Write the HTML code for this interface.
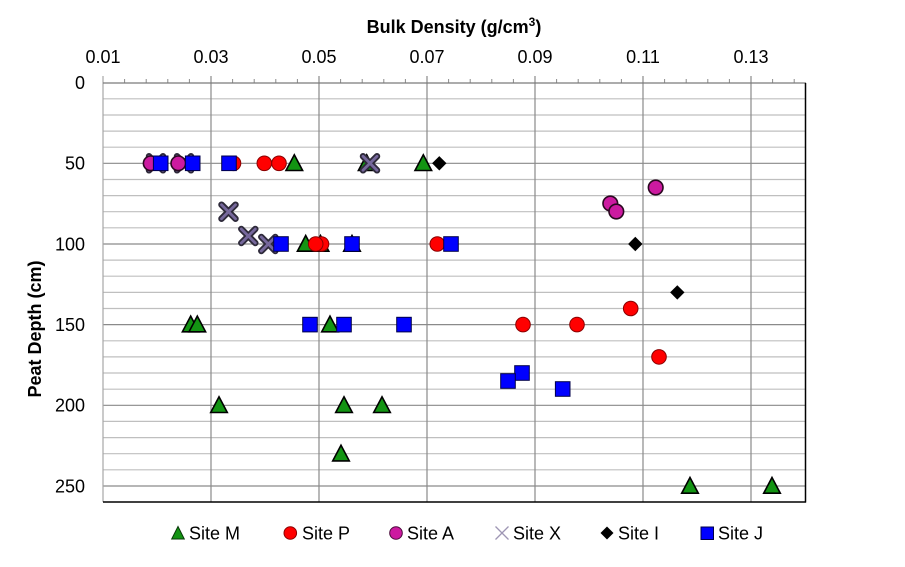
<!DOCTYPE html>
<html><head><meta charset="utf-8"><style>
html,body{margin:0;padding:0;background:#fff;}
svg{display:block;font-family:"Liberation Sans",Arial,sans-serif;}
</style></head><body>
<svg width="905" height="567" viewBox="0 0 905 567" xmlns="http://www.w3.org/2000/svg">
<rect width="905" height="567" fill="#fff"/>
<defs>
<path id="tri" d="M0,-8.5 L8.3,7.2 L-8.3,7.2 Z" fill="#139413" stroke="#000" stroke-width="1.6" stroke-linejoin="miter"/>
<circle id="cp" r="7.3" fill="#ff0000" stroke="#8a0000" stroke-width="1"/>
<circle id="ca" r="7.3" fill="#cc1aa0" stroke="#2a0820" stroke-width="1.6"/>
<rect id="sq" x="-7.3" y="-7.3" width="14.6" height="14.6" fill="#0000ff" stroke="#00004a" stroke-width="1"/>
<path id="dm" d="M0,-7.2 L7.2,0 L0,7.2 L-7.2,0 Z" fill="#000"/>
<g id="xx">
<path d="M-7,-7 L7,7 M7,-7 L-7,7" stroke="#2e2a3a" stroke-width="6.5" stroke-linecap="round"/>
<path d="M-7,-7 L7,7 M7,-7 L-7,7" stroke="#76689c" stroke-width="2.8" stroke-linecap="round"/>
</g>
</defs>
<!-- minor horizontal gridlines -->
<g stroke="#bfbfbf" stroke-width="1.2">
<line x1="103" x2="805" y1="98.8" y2="98.8"/><line x1="103" x2="805" y1="115" y2="115"/><line x1="103" x2="805" y1="131.1" y2="131.1"/><line x1="103" x2="805" y1="147.2" y2="147.2"/>
<line x1="103" x2="805" y1="179.5" y2="179.5"/><line x1="103" x2="805" y1="195.6" y2="195.6"/><line x1="103" x2="805" y1="211.7" y2="211.7"/><line x1="103" x2="805" y1="227.8" y2="227.8"/>
<line x1="103" x2="805" y1="260.1" y2="260.1"/><line x1="103" x2="805" y1="276.2" y2="276.2"/><line x1="103" x2="805" y1="292.4" y2="292.4"/><line x1="103" x2="805" y1="308.5" y2="308.5"/>
<line x1="103" x2="805" y1="340.8" y2="340.8"/><line x1="103" x2="805" y1="356.9" y2="356.9"/><line x1="103" x2="805" y1="373" y2="373"/><line x1="103" x2="805" y1="389.2" y2="389.2"/>
<line x1="103" x2="805" y1="421.4" y2="421.4"/><line x1="103" x2="805" y1="437.6" y2="437.6"/><line x1="103" x2="805" y1="453.7" y2="453.7"/><line x1="103" x2="805" y1="469.8" y2="469.8"/>
</g>
<!-- major horizontal gridlines -->
<g stroke="#8a8a8a" stroke-width="1.2">
<line x1="103" x2="805" y1="163.3" y2="163.3"/><line x1="103" x2="805" y1="244" y2="244"/><line x1="103" x2="805" y1="324.6" y2="324.6"/><line x1="103" x2="805" y1="405.3" y2="405.3"/><line x1="103" x2="805" y1="486" y2="486"/>
</g>
<!-- vertical gridlines -->
<g stroke="#8a8a8a" stroke-width="1.2">
<line x1="211" x2="211" y1="76" y2="502"/><line x1="319" x2="319" y1="76" y2="502"/><line x1="427" x2="427" y1="76" y2="502"/><line x1="535" x2="535" y1="76" y2="502"/><line x1="643" x2="643" y1="76" y2="502"/><line x1="751" x2="751" y1="76" y2="502"/>
</g>
<line x1="103" x2="103" y1="76" y2="502" stroke="#a6a6a6" stroke-width="1.2"/>
<!-- minor ticks top -->
<g stroke="#8a8a8a" stroke-width="1">
<line x1="124.6" x2="124.6" y1="79" y2="83"/><line x1="146.2" x2="146.2" y1="79" y2="83"/><line x1="167.8" x2="167.8" y1="79" y2="83"/><line x1="189.4" x2="189.4" y1="79" y2="83"/>
<line x1="232.6" x2="232.6" y1="79" y2="83"/><line x1="254.2" x2="254.2" y1="79" y2="83"/><line x1="275.8" x2="275.8" y1="79" y2="83"/><line x1="297.4" x2="297.4" y1="79" y2="83"/>
<line x1="340.6" x2="340.6" y1="79" y2="83"/><line x1="362.2" x2="362.2" y1="79" y2="83"/><line x1="383.8" x2="383.8" y1="79" y2="83"/><line x1="405.4" x2="405.4" y1="79" y2="83"/>
<line x1="448.6" x2="448.6" y1="79" y2="83"/><line x1="470.2" x2="470.2" y1="79" y2="83"/><line x1="491.8" x2="491.8" y1="79" y2="83"/><line x1="513.4" x2="513.4" y1="79" y2="83"/>
<line x1="556.6" x2="556.6" y1="79" y2="83"/><line x1="578.2" x2="578.2" y1="79" y2="83"/><line x1="599.8" x2="599.8" y1="79" y2="83"/><line x1="621.4" x2="621.4" y1="79" y2="83"/>
<line x1="664.6" x2="664.6" y1="79" y2="83"/><line x1="686.2" x2="686.2" y1="79" y2="83"/><line x1="707.8" x2="707.8" y1="79" y2="83"/><line x1="729.4" x2="729.4" y1="79" y2="83"/>
<line x1="772.6" x2="772.6" y1="79" y2="83"/><line x1="794.2" x2="794.2" y1="79" y2="83"/>
</g>
<line x1="103" x2="806" y1="83" y2="83" stroke="#7a7a7a" stroke-width="1.3"/>
<line x1="103" x2="806" y1="502" y2="502" stroke="#000" stroke-width="1.5"/>
<line x1="805.5" x2="805.5" y1="83" y2="502.5" stroke="#000" stroke-width="1.5"/>

<!-- titles & labels -->
<text x="454" y="33" font-size="18" font-weight="bold" text-anchor="middle" fill="#000">Bulk Density (g/cm<tspan font-size="12" dy="-7">3</tspan><tspan dy="7">)</tspan></text>
<g font-size="18" fill="#000" text-anchor="middle">
<text x="103" y="63">0.01</text><text x="211" y="63">0.03</text><text x="319" y="63">0.05</text><text x="427" y="63">0.07</text><text x="535" y="63">0.09</text><text x="643" y="63">0.11</text><text x="751" y="63">0.13</text>
</g>
<g font-size="18" fill="#000" text-anchor="end">
<text x="85" y="89">0</text><text x="85" y="169.6">50</text><text x="85" y="250.3">100</text><text x="85" y="331">150</text><text x="85" y="411.6">200</text><text x="85" y="492.3">250</text>
</g>
<text x="41" y="329" font-size="18" font-weight="bold" text-anchor="middle" transform="rotate(-90 41 329)">Peat Depth (cm)</text>

<!-- Site M -->
<g>
<use href="#tri" x="294.3" y="163.3"/><use href="#tri" x="423.3" y="163.3"/><use href="#tri" x="366.7" y="163.3"/>
<use href="#tri" x="305.7" y="244"/><use href="#tri" x="320.5" y="244"/><use href="#tri" x="352" y="244"/>
<use href="#tri" x="190.7" y="324.6"/><use href="#tri" x="197.3" y="324.6"/><use href="#tri" x="330" y="324.6"/>
<use href="#tri" x="219" y="405.3"/><use href="#tri" x="344" y="405.3"/><use href="#tri" x="382" y="405.3"/>
<use href="#tri" x="341" y="453.7"/>
<use href="#tri" x="690" y="486"/><use href="#tri" x="772" y="486"/>
</g>
<!-- Site P -->
<g>
<use href="#cp" x="233.5" y="163.3"/><use href="#cp" x="264.3" y="163.3"/><use href="#cp" x="279" y="163.3"/>
<use href="#cp" x="321.5" y="244"/><use href="#cp" x="315.7" y="244"/><use href="#cp" x="437.3" y="244"/>
<use href="#cp" x="630.7" y="308.5"/>
<use href="#cp" x="523" y="324.6"/><use href="#cp" x="577" y="324.6"/>
<use href="#cp" x="659" y="356.9"/>
</g>
<!-- Site X -->
<g>
<use href="#xx" x="156" y="163.3"/><use href="#xx" x="184" y="163.3"/><use href="#xx" x="370" y="163.3"/>
<use href="#xx" x="228.5" y="211.7"/><use href="#xx" x="248.3" y="236"/><use href="#xx" x="268.3" y="244"/>
</g>
<!-- Site A -->
<g>
<use href="#ca" x="150.7" y="163.3"/><use href="#ca" x="178.3" y="163.3"/>
<use href="#ca" x="655.7" y="187.5"/><use href="#ca" x="610.3" y="203.5"/><use href="#ca" x="616.3" y="211.5"/>
</g>
<!-- Site I -->
<g>
<use href="#dm" x="439.3" y="163.3"/><use href="#dm" x="635.3" y="244"/><use href="#dm" x="677.3" y="292.4"/>
</g>
<!-- Site J -->
<g>
<use href="#sq" x="160.7" y="163.3"/><use href="#sq" x="192.7" y="163.3"/><use href="#sq" x="229" y="163.3"/>
<use href="#sq" x="281" y="244"/><use href="#sq" x="352" y="244"/><use href="#sq" x="451" y="244"/>
<use href="#sq" x="310" y="324.6"/><use href="#sq" x="344" y="324.6"/><use href="#sq" x="404" y="324.6"/>
<use href="#sq" x="522" y="373"/><use href="#sq" x="508" y="381"/><use href="#sq" x="562.7" y="389"/>
</g>

<!-- Legend -->
<g>
<path d="M178,526.5 L184.3,539 L171.7,539 Z" fill="#139413" stroke="#0a3a0a" stroke-width="1"/>
<circle cx="290.3" cy="533" r="6.3" fill="#ff0000" stroke="#8a0000" stroke-width="1"/>
<circle cx="396" cy="533" r="6.3" fill="#cc1aa0" stroke="#4a0a3a" stroke-width="1"/>
<path d="M495.5,526.5 L508.5,539.5 M508.5,526.5 L495.5,539.5" stroke="#9e96b4" stroke-width="1.3"/>
<path d="M607,526.5 L613.5,533 L607,539.5 L600.5,533 Z" fill="#000"/>
<rect x="701" y="527" width="12.5" height="12.5" fill="#0000ff" stroke="#00004a" stroke-width="1"/>
</g>
<g font-size="18" fill="#000">
<text x="189" y="539.5">Site M</text>
<text x="302" y="539.5">Site P</text>
<text x="407" y="539.5">Site A</text>
<text x="513" y="539.5">Site X</text>
<text x="618" y="539.5">Site I</text>
<text x="718" y="539.5">Site J</text>
</g>
</svg>
</body></html>
